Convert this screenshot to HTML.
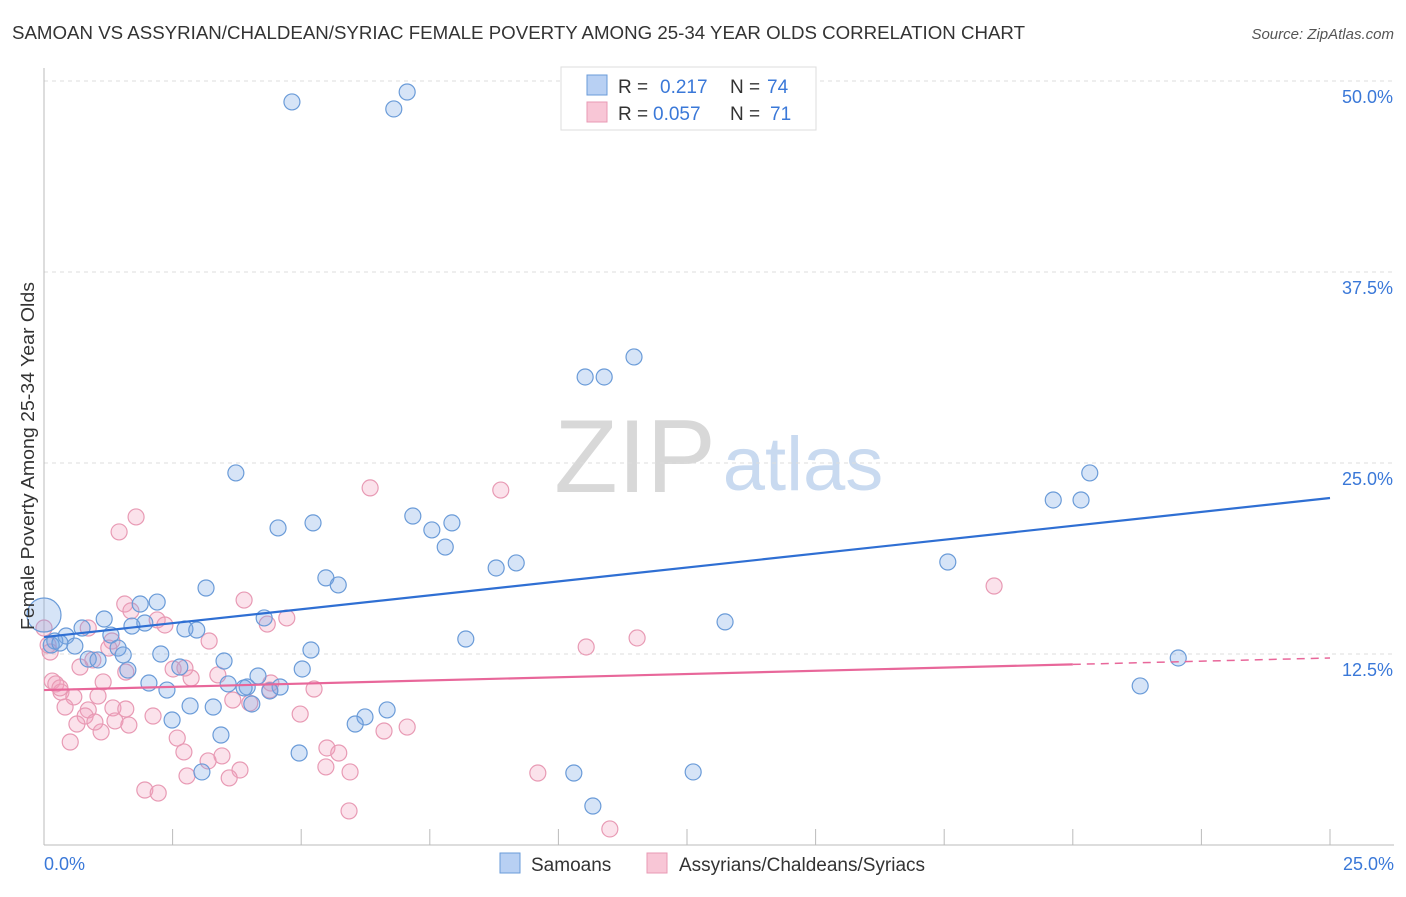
<!DOCTYPE html>
<html><head><meta charset="utf-8">
<style>
html,body{margin:0;padding:0;background:#fff;}
body{width:1406px;height:892px;overflow:hidden;font-family:"Liberation Sans",sans-serif;}
svg text{font-family:"Liberation Sans",sans-serif;}
</style></head>
<body>
<svg id="chart" width="1406" height="892" viewBox="0 0 1406 892" xmlns="http://www.w3.org/2000/svg">
<text x="12" y="39" font-size="18" fill="#333" textLength="1013" lengthAdjust="spacingAndGlyphs">SAMOAN VS ASSYRIAN/CHALDEAN/SYRIAC FEMALE POVERTY AMONG 25-34 YEAR OLDS CORRELATION CHART</text>
<text x="1394" y="39" font-size="15" fill="#555" font-style="italic" text-anchor="end">Source: ZipAtlas.com</text>
<g>
<text x="635" y="492" font-size="104" fill="#d8d8d8" font-family="Liberation Serif" text-anchor="middle">ZIP</text>
<text x="803" y="490" font-size="76" fill="#c9daf0" text-anchor="middle">atlas</text>
</g>
<g id="grid"></g>
<g id="axes"></g>
<g id="pts-pink"></g>
<g id="pts-blue"></g>
<g id="trends"></g>
<text transform="translate(34,456) rotate(-90)" font-size="18" fill="#333" text-anchor="middle" textLength="348" lengthAdjust="spacingAndGlyphs">Female Poverty Among 25-34 Year Olds</text>
<g>
<rect x="561" y="67" width="255" height="63" fill="#fff" stroke="#ddd"/>
<rect x="587" y="75" width="20" height="20" fill="#b8d0f3" stroke="#6a9bd8"/>
<rect x="587" y="102" width="20" height="20" fill="#f8c6d6" stroke="#e89ab4"/>
<text x="618" y="93" font-size="19" fill="#333">R = </text><text x="660" y="93" font-size="19" fill="#3a78d8">0.217</text>
<text x="730" y="93" font-size="19" fill="#333">N = </text><text x="767" y="93" font-size="19" fill="#3a78d8">74</text>
<text x="618" y="120" font-size="19" fill="#333">R = </text><text x="653" y="120" font-size="19" fill="#3a78d8">0.057</text>
<text x="730" y="120" font-size="19" fill="#333">N = </text><text x="770" y="120" font-size="19" fill="#3a78d8">71</text>
</g>
<g>
<rect x="500" y="853" width="20" height="20" fill="#b8d0f3" stroke="#6a9bd8"/>
<text x="531" y="871" font-size="19" fill="#333">Samoans</text>
<rect x="647" y="853" width="20" height="20" fill="#f8c6d6" stroke="#e89ab4"/>
<text x="679" y="871" font-size="19" fill="#333">Assyrians/Chaldeans/Syriacs</text>
</g>
</svg>
<script>
const blueX=[4.82,6.80,7.06,11.47,10.52,10.89,3.73,20.33,19.62,20.16,4.55,5.23,7.17,7.54,7.93,7.80,8.79,9.18,17.57,5.48,5.72,3.15,0,1.87,2.20,1.17,1.96,1.71,4.28,0.74,2.74,2.97,0.43,1.30,0.21,0.60,1.44,13.24,8.20,5.19,2.27,1.54,0.86,1.05,2.64,3.50,5.02,22.05,1.63,4.16,2.04,2.39,3.58,3.95,3.89,4.59,4.39,21.31,2.84,3.29,4.04,6.67,6.24,2.49,6.05,3.44,4.96,3.07,10.30,12.62,10.67,0.14,0.31];
const blueY=[48.63,48.17,49.28,31.94,30.63,30.63,24.35,24.35,22.58,22.58,20.75,21.08,21.53,20.62,21.08,19.50,18.13,18.46,18.52,17.48,17.02,16.82,15.05,15.77,15.90,14.79,14.53,14.33,14.86,14.20,14.14,14.07,13.68,13.74,13.35,13.02,12.89,14.60,13.48,12.76,12.50,12.44,12.17,12.11,11.65,12.04,11.52,12.24,11.45,11.06,10.60,10.14,10.54,10.34,10.28,10.34,10.08,10.41,9.10,9.03,9.23,8.84,8.38,8.18,7.92,7.20,6.02,4.78,4.71,4.78,2.55,13.09,13.22];
const pinkX=[6.34,8.88,1.79,1.46,18.47,3.89,1.57,1.69,2.20,2.35,4.72,4.34,0,11.53,3.21,1.32,10.54,1.26,0.12,0.95,0.70,2.51,3.38,2.86,0.16,0.23,1.15,4.41,5.25,0.33,0.58,1.05,0.41,1.34,1.59,0.86,0.80,2.12,4.98,0.64,1.38,1.65,1.11,7.06,6.61,2.59,0.51,5.50,5.73,3.46,2.72,3.19,5.48,5.95,9.60,2.78,3.81,3.60,1.96,2.22,5.93,11.00,4.00,4.39,0.31,0.08,0.86,1.59,2.74,3.67,0.99];
const pinkY=[23.37,23.23,21.47,20.49,16.95,16.03,15.77,15.32,14.73,14.40,14.86,14.46,14.20,13.55,13.35,13.35,12.96,12.89,12.63,12.11,11.65,11.52,11.13,10.93,10.73,10.54,10.67,10.60,10.21,10.01,9.69,9.75,9.03,8.97,8.90,8.84,8.44,8.44,8.57,7.92,8.12,7.85,7.40,7.72,7.46,7.00,6.74,6.35,6.02,5.83,6.09,5.50,5.11,4.78,4.71,4.52,4.91,4.39,3.60,3.40,2.23,1.05,9.29,10.14,10.28,13.09,14.20,11.32,11.58,9.49,8.05];
const blueTrend=[13.61,22.71];
const pinkTrend=[10.14,12.24];
const yTicks=[12.5,25,37.5,50];
const yTickLabels=["12.5%","25.0%","37.5%","50.0%"];
const xTicks=[0,2.5,5,7.5,10,12.5,15,17.5,20,22.5,25];

const NS="http://www.w3.org/2000/svg";
const X0=44,X1=1330,Y0=845,YPER=15.28;
function sx(v){return X0+(X1-X0)*v/25;}
function sy(v){return Y0-v*YPER;}
function mk(tag,attrs,parent){const e=document.createElementNS(NS,tag);for(const k in attrs)e.setAttribute(k,attrs[k]);parent.appendChild(e);return e;}
const grid=document.getElementById('grid'),axes=document.getElementById('axes');
yTicks.forEach((t,i)=>{
  const l=mk('line',{x1:X0,x2:1394,y1:sy(t),y2:sy(t),stroke:'#ddd','stroke-dasharray':'4,4'},grid);
  
  
  const tx=mk('text',{x:1393,y:sy(t)+22,'font-size':18,fill:'#3a78d8','text-anchor':'end'},axes);
  tx.textContent=yTickLabels[i];
  
  
});
const ax=mk('line',{x1:X0,x2:1394,y1:Y0,y2:Y0,stroke:'#bbb'},axes);


const ay=mk('line',{x1:X0,x2:X0,y1:68,y2:Y0,stroke:'#bbb'},axes);


xTicks.forEach(t=>{
  const l=mk('line',{x1:sx(t),x2:sx(t),y1:Y0,y2:Y0-16,stroke:'#bbb'},axes);
  
  
});
const xl0=mk('text',{x:44,y:870,'font-size':18,fill:'#3a78d8'},axes);xl0.textContent='0.0%';


const xl1=mk('text',{x:1394,y:870,'font-size':18,fill:'#3a78d8','text-anchor':'end'},axes);xl1.textContent='25.0%';



const pp=document.getElementById('pts-pink');
pinkX.forEach((x,i)=>{
  const c=mk('circle',{cx:sx(x),cy:sy(pinkY[i]),r:8,fill:'rgba(242,160,188,0.3)',stroke:'#e89ab4','stroke-width':1.2},pp);
  
  
});
const bp=document.getElementById('pts-blue');
blueX.forEach((x,i)=>{
  const r=(x===0)?17:8;
  const c=mk('circle',{cx:sx(x),cy:sy(blueY[i]),r:r,fill:'rgba(120,165,230,0.3)',stroke:'#6a9bd8','stroke-width':1.2},bp);
  
  
});
const tr=document.getElementById('trends');
const bl=mk('line',{x1:sx(0),y1:sy(blueTrend[0]),x2:sx(25),y2:sy(blueTrend[1]),stroke:'#2f6fd3','stroke-width':2.2},tr);


const pm=pinkTrend[0]+(pinkTrend[1]-pinkTrend[0])*20/25;
const pl=mk('line',{x1:sx(0),y1:sy(pinkTrend[0]),x2:sx(20),y2:sy(pm),stroke:'#e8679a','stroke-width':2.2},tr);


const pd=mk('line',{x1:sx(20),y1:sy(pm),x2:sx(25),y2:sy(pinkTrend[1]),stroke:'#e8679a','stroke-width':1.5,'stroke-dasharray':'8,6'},tr);


</script>
</body></html>
